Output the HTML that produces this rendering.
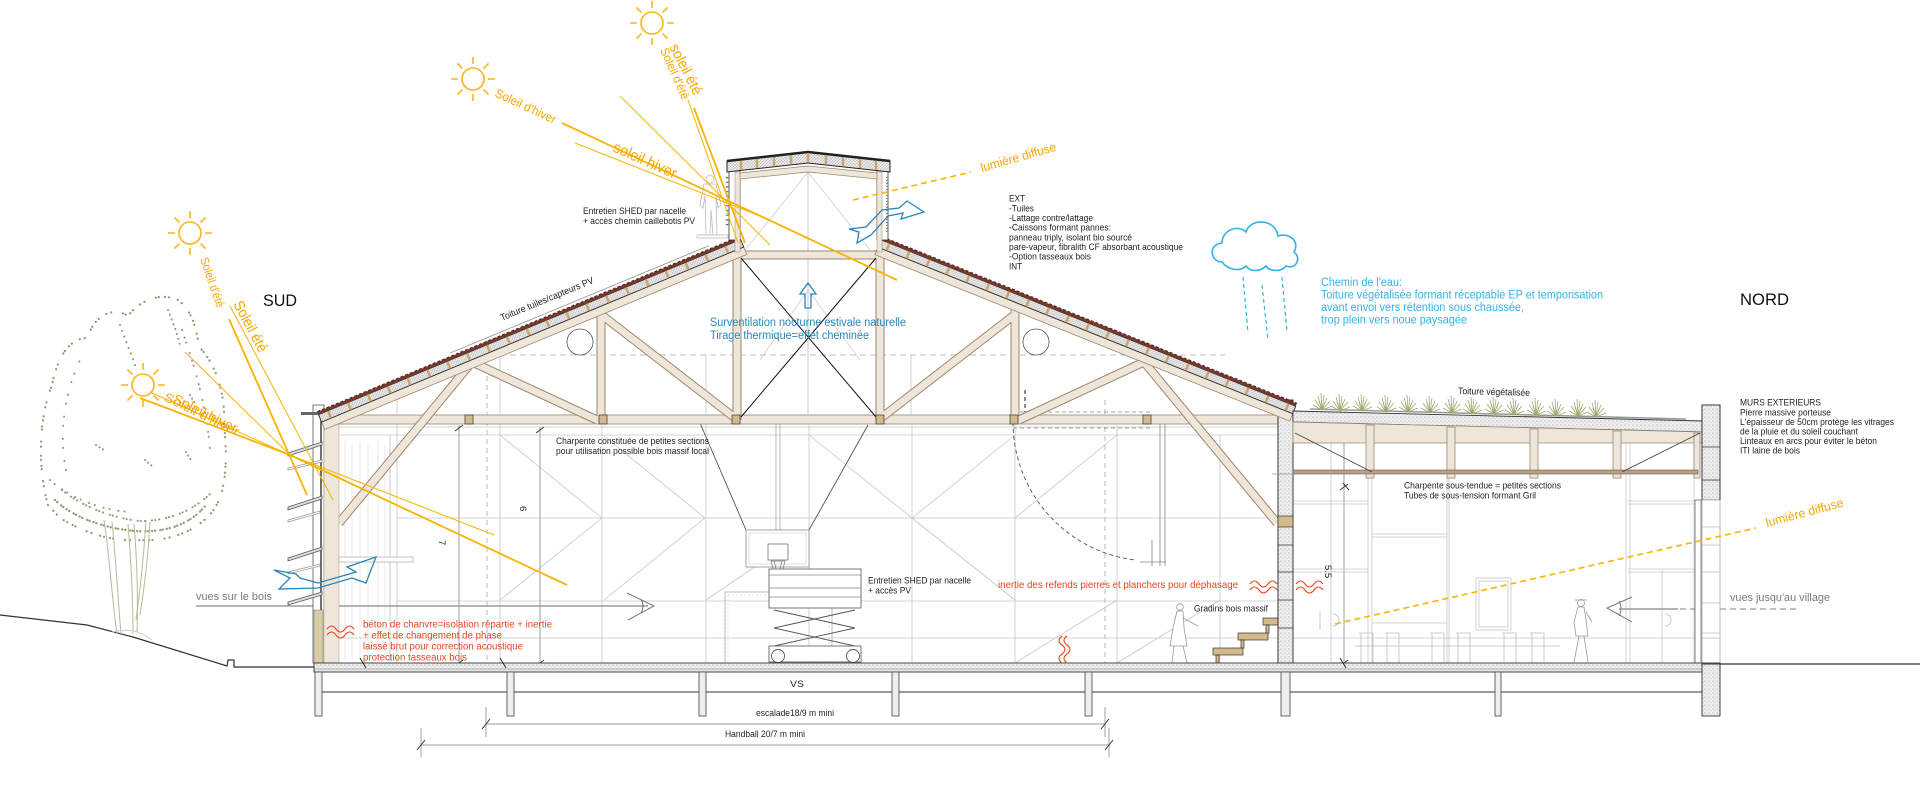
<!DOCTYPE html>
<html><head><meta charset="utf-8">
<style>
html,body{margin:0;padding:0;background:#fff;}
svg{display:block;}
text{font-family:"Liberation Sans",Arial,sans-serif;}
.k{fill:#222;font-size:9.5px;}
.o{fill:#f5a600;}
.b{fill:#2a86b8;font-size:11.5px;}
.c{fill:#33b2e6;font-size:11.5px;}
.r{fill:#e5461c;font-size:10.5px;}
.g{fill:#7a7a7a;font-size:11px;}
.wo{stroke:#9c8670;stroke-width:9;fill:none;}
.wi{stroke:#efe6da;stroke-width:7;fill:none;}
.gl{stroke:#c6c6c6;stroke-width:0.8;fill:none;}
.ray{stroke:#f8b400;fill:none;}
</style></head>
<body>
<svg width="1920" height="793" viewBox="0 0 1920 793" xmlns="http://www.w3.org/2000/svg">
<defs>
<pattern id="hx" width="3" height="3" patternUnits="userSpaceOnUse"><rect width="3" height="3" fill="#ececec"/><path d="M0 3L3 0" stroke="#a8a8a8" stroke-width="0.5"/><path d="M0 0L3 3" stroke="#c8c8c8" stroke-width="0.4"/></pattern>
<pattern id="st" width="4" height="4" patternUnits="userSpaceOnUse"><rect width="4" height="4" fill="#efefef"/><circle cx="1" cy="1" r="0.55" fill="#8a8a8a"/><circle cx="3" cy="2.8" r="0.45" fill="#a5a5a5"/></pattern>
<g id="sun"><circle r="11" fill="none" stroke="#f9b51a" stroke-width="1.6"/><path d="M15 0H22M-15 0H-22M0 15V22M0 -15V-22M10.6 10.6L15.6 15.6M-10.6 10.6L-15.6 15.6M10.6 -10.6L15.6 -15.6M-10.6 -10.6L-15.6 -15.6" stroke="#f9b51a" stroke-width="1.6"/></g>
<path id="tuft" d="M0 0L-9 -5M0 0L-7 -10M0 0L-4 -14M0 0L-1 -17M0 0L2 -15M0 0L5 -12M0 0L8 -9M0 0L10 -4M0 0L-3 -9M0 0L3 -8" stroke="#9aab6c" stroke-width="0.8" fill="none"/>
</defs>

<!-- ground -->
<path d="M0,615 L87,625 L133,637 L227,666 L228,660 L234,660 L234,667 L315,667" fill="none" stroke="#333" stroke-width="1.2"/>
<line x1="1720" y1="664" x2="1920" y2="664" stroke="#333" stroke-width="1.2"/>

<!-- tree -->
<g fill="none" stroke="#8d9c72" stroke-linecap="round">
<path d="M48,505 C38,470 38,420 52,385 C58,355 70,338 88,338 C92,318 112,305 128,316 C140,300 160,292 178,300 C194,312 196,332 200,348 C214,362 226,392 224,425 C228,460 226,495 212,512 C196,532 168,542 138,540 C108,542 80,530 60,518 Z" stroke-width="2.2" stroke-dasharray="0.1 6 0.1 4 0.1 9 0.1 5 0.1 12 0.1 3"/>
<path d="M55,500 C70,515 100,528 135,531 C165,533 190,525 206,505" stroke-width="2.3" stroke-dasharray="0.1 3 0.1 5 0.1 2.5 0.1 4"/>
<path d="M62,490 C80,505 110,518 140,521 C170,521 195,510 214,490" stroke-width="2.1" stroke-dasharray="0.1 4 0.1 7 0.1 3"/>
<path d="M50,480 C70,498 100,510 130,512" stroke-width="2" stroke-dasharray="0.1 6 0.1 9"/>
<path d="M66,470 C58,430 66,390 80,360" stroke-width="2" stroke-dasharray="0.1 9 0.1 13"/>
<path d="M182,330 C192,360 206,400 210,450" stroke-width="2" stroke-dasharray="0.1 8 0.1 5 0.1 11"/>
<path d="M120,325 C125,340 130,350 135,365" stroke-width="2" stroke-dasharray="0.1 6"/>
<path d="M168,310 C172,320 176,330 180,345" stroke-width="2" stroke-dasharray="0.1 5"/>
<path d="M145,460 L152,466 M186,452 L192,462 M96,445 L104,450 M190,395 L196,405" stroke-width="2" stroke-dasharray="0.1 4"/>
</g>
<g stroke="#b3bb98" stroke-width="1" fill="none">
<path d="M104,520 C110,560 112,600 117,634"/>
<path d="M112,522 C116,560 118,600 121,634"/>
<path d="M128,524 C131,560 133,600 133,634"/>
<path d="M134,524 C137,560 138,600 137,632"/>
<path d="M146,520 C144,555 140,590 136,620"/>
<path d="M150,522 C148,560 144,590 140,615"/>
<path d="M112,632 Q135,626 152,640" stroke="#ccc"/>
</g>

<!-- interior grid lines main hall -->
<g class="gl">
<path d="M340,427H1278M340,435H1278M397,518H1278M397,601H1278M340,638H1278"/>
<path d="M397,380V663M500,355V663M602,425V663M706,355V663M809,425V663M912,425V663M1015,425V663M1117,425V663M1220,435V663M911,355V415"/>
<path d="M500,435L602,518M604,436L705,518L604,600M809,435L912,518L1015,435M912,518L1015,600M1015,518L1117,435M1015,663L1117,600M1117,663L1220,600M706,600L809,530M500,600L602,518"/>
<path d="M745,250L808,172L870,250M760,360L808,290L860,360" stroke="#cfcfcf"/>
<path d="M808,170V417" stroke="#bbb"/>
</g>
<g stroke="#e0e0e0" stroke-width="0.7">
<path d="M345,440V660M352,445V660M360,440V660M368,445V660M378,440V660M385,445V660"/>
</g>
<line x1="390" y1="435" x2="390" y2="663" stroke="#bbb" stroke-width="0.8"/>
<path d="M487,340V663M1105,400V663" stroke="#aaa" stroke-width="0.8" stroke-dasharray="5 4" fill="none"/>
<path d="M490,355H1225" stroke="#aaa" stroke-width="0.8" stroke-dasharray="6 4"/>
<path d="M1013,412H1150M1013,428H1150" stroke="#888" stroke-width="0.8" stroke-dasharray="4 3"/>
<path d="M1025,390V412" stroke="#444" stroke-width="1.2" stroke-dasharray="4 3"/>
<path d="M1013,422 A139 139 0 0 0 1135,560" fill="none" stroke="#555" stroke-width="0.9" stroke-dasharray="4 3"/>
<path d="M1160,420V566M1165,420V566M1140,562H1166M1152,540V566" stroke="#888" stroke-width="0.8" fill="none"/>
<path d="M459,425V663M540,427V663M1344,440V663" stroke="#888" stroke-width="0.8"/>
<path d="M455,431L463,425M536,433L544,427M455,666L463,660M536,666L544,660M1340,490L1348,484M1340,666L1348,660" stroke="#333" stroke-width="0.9"/>

<!-- annex interior -->
<g class="gl">
<path d="M1331,440V663M1368,440V663M1372,440V663M1447,440V663M1449,440V663M1626,440V663M1630,440V663M1662,570V663M1694,440V663"/>
<path d="M1293,501H1368M1293,504H1368M1628,501H1700M1628,504H1700M1372,534H1447M1372,537H1447M1293,569H1368M1293,572H1368M1628,569H1700M1628,572H1700M1372,623H1447M1293,638H1700"/>
<rect x="1476" y="578" width="35" height="52"/><rect x="1479" y="581" width="29" height="46"/>
</g>
<g stroke="#bdbdbd" stroke-width="0.8" fill="none">
<path d="M1359,633h14v30M1361,663v-30M1385,633h14v30M1387,663v-30M1430,633h14v30M1432,663v-30M1456,633h14v30M1458,663v-30M1502,633h14v30M1504,663v-30M1530,633h14v30M1532,663v-30M1355,646H1560"/>
<path d="M1333,614 a6 6 0 0 1 0 12M1665,614 a6 6 0 0 1 0 12M1320,612V630"/>
</g>
<g stroke="#9a9a9a" stroke-width="0.8" fill="#fff">
<circle cx="1581" cy="603" r="3.5"/><path d="M1575,600 h12"/>
<path d="M1578,607 L1574,622 L1576,636 L1588,636 L1586,620 L1584,607 Z"/>
<path d="M1579,636 L1574,662 M1584,636 L1588,662 M1586,612 L1592,622" fill="none"/>
</g>
<path d="M1632,597 L1607,608 L1632,622" fill="none" stroke="#777" stroke-width="1"/>
<path d="M1619,601 Q1623,609 1619,616" fill="none" stroke="#777" stroke-width="1"/>
<line x1="1619" y1="609" x2="1678" y2="609" stroke="#888" stroke-width="1.3"/>
<line x1="1680" y1="609" x2="1800" y2="609" stroke="#999" stroke-width="1.3" stroke-dasharray="6 4"/>
<line x1="196" y1="606" x2="648" y2="606" stroke="#888" stroke-width="1.2"/>
<path d="M627,593 L654,606 L628,620" fill="none" stroke="#777" stroke-width="1"/>
<path d="M641,599 Q645,606 641,613" fill="none" stroke="#777" stroke-width="1"/>

<!-- hoop -->
<path d="M700,423L746,530M868,425L809,530" stroke="#555" stroke-width="0.9"/>
<path d="M776,424V530M780,424V530" stroke="#aaa" stroke-width="0.8"/>
<rect x="746" y="530" width="63" height="37" fill="#fff" stroke="#999" stroke-width="0.9"/>
<rect x="749" y="533" width="57" height="31" fill="none" stroke="#ccc" stroke-width="0.6"/>
<rect x="768" y="544" width="20" height="16" fill="#fff" stroke="#777" stroke-width="0.8"/>
<path d="M771,561H785L782,573H774Z M774,561L777,573M782,561L779,573" fill="none" stroke="#777" stroke-width="0.7"/>
<rect x="725" y="592" width="107" height="71" fill="none" stroke="#aaa" stroke-width="0.8"/>
<rect x="728" y="595" width="101" height="68" fill="none" stroke="#ccc" stroke-width="0.6" stroke-dasharray="2 2"/>
<rect x="769" y="569" width="92" height="39" fill="#fff" stroke="#666" stroke-width="0.9"/>
<path d="M769,575H861M769,588H861M769,597H861" stroke="#888" stroke-width="0.7"/>
<path d="M774,610L855,628M855,610L774,628M774,628L855,646M855,628L774,646" stroke="#555" stroke-width="0.9"/>
<rect x="769" y="646" width="92" height="16" fill="#fff" stroke="#666" stroke-width="0.9"/>
<circle cx="778" cy="656" r="6.5" fill="#fff" stroke="#555" stroke-width="0.9"/>
<circle cx="853" cy="656" r="6.5" fill="#fff" stroke="#555" stroke-width="0.9"/>

<!-- stairs & person -->
<g fill="#d4b98c" stroke="#333" stroke-width="0.7">
<rect x="1213" y="648" width="30" height="7"/><rect x="1238" y="633" width="30" height="7"/><rect x="1263" y="618" width="15" height="7"/>
<rect x="1216" y="655" width="3" height="8"/><rect x="1241" y="640" width="3" height="8"/><rect x="1266" y="625" width="3" height="8"/>
</g>
<g stroke="#999" stroke-width="0.8" fill="#fff">
<circle cx="1180" cy="607" r="3.3"/>
<path d="M1177,611 L1173,628 L1170,646 L1187,646 L1184,628 L1183,611 Z"/>
<path d="M1174,646 L1172,663 M1183,646 L1187,663 M1183,618 L1198,626" fill="none"/>
</g>

<!-- truss members -->
<rect x="324" y="415" width="954" height="9" fill="#efe6da" stroke="#9c8670" stroke-width="0.8"/>
<g>
<path class="wo" d="M339,523L472,362M472,362L597,420M601,310V420M603,316L735,418M737,250V420M880,250V420M739,255H878M1015,310V420M1013,316L881,418M1144,362L1019,420M1144,362L1277,523"/>
<path class="wi" d="M339,523L472,362M472,362L597,420M601,310V420M603,316L735,418M737,250V420M880,250V420M739,255H878M1015,310V420M1013,316L881,418M1144,362L1019,420M1144,362L1277,523"/>
</g>
<path d="M741,258L876,417M876,258L741,417" stroke="#111" stroke-width="1"/>
<g fill="#d4b98c" stroke="#333" stroke-width="0.7">
<rect x="465" y="415" width="8" height="9"/><rect x="599" y="415" width="8" height="9"/><rect x="732" y="415" width="8" height="9"/><rect x="876" y="415" width="8" height="9"/><rect x="1010" y="415" width="8" height="9"/><rect x="1143" y="415" width="8" height="9"/>
</g>
<circle cx="580" cy="342" r="13" fill="none" stroke="#555" stroke-width="0.8"/>
<circle cx="1036" cy="342" r="13" fill="none" stroke="#555" stroke-width="0.8"/>

<!-- left wall -->
<rect x="313" y="405" width="11" height="258" fill="#fff" stroke="#555" stroke-width="0.8"/>
<line x1="321" y1="413" x2="321" y2="610" stroke="#222" stroke-width="1.3"/>
<rect x="324" y="424" width="15" height="239" fill="#efe6da" stroke="#b8a690" stroke-width="0.6"/>
<rect x="314" y="610" width="9" height="53" fill="#d9cba6" stroke="#888" stroke-width="0.6"/>
<rect x="301" y="412" width="24" height="3" fill="#666"/>
<rect x="339" y="557" width="74" height="5" fill="#fff" stroke="#aaa" stroke-width="0.7"/>
<g stroke="#555" stroke-width="0.8" fill="#ddd">
<path d="M288,453L322,442L322,445L288,456Z"/>
<path d="M288,468L322,460L322,462L288,470Z" fill="#fff" stroke="#999"/>
<path d="M288,507L322,496L322,499L288,510Z"/>
<path d="M288,520L320,511L320,513L288,522Z" fill="#fff" stroke="#999"/>
<path d="M288,558L322,547L322,550L288,561Z"/>
<path d="M288,572L320,564L320,566L288,574Z" fill="#fff" stroke="#999"/>
<path d="M288,602L322,592L322,595L288,605Z"/>
</g>

<!-- right main wall -->
<rect x="1278" y="400" width="15" height="263" fill="url(#st)" stroke="#222" stroke-width="0.9"/>
<rect x="1278" y="516" width="15" height="11" fill="#d4b98c" stroke="#333" stroke-width="0.7"/>
<path d="M1278,545H1293M1278,572H1293M1278,600H1293M1278,628H1293" stroke="#333" stroke-width="0.8"/>

<!-- left roof -->
<g transform="translate(322,410) rotate(-22.53)">
<rect x="-5" y="11" width="457" height="8" fill="#efe6da" stroke="#9c8670" stroke-width="0.8"/>
<rect x="-5" y="3" width="457" height="8" fill="url(#hx)" stroke="#2a2a2a" stroke-width="0.9"/>
<line x1="4" y1="7" x2="452" y2="7" stroke="#c9a66e" stroke-width="7.5" stroke-dasharray="2.5 19"/>
<rect x="-5" y="0" width="457" height="3" fill="#74392b"/>
<line x1="-5" y1="-0.3" x2="452" y2="-0.3" stroke="#4a2018" stroke-width="1" stroke-dasharray="3 2"/>
<line x1="140" y1="-3.5" x2="420" y2="-3.5" stroke="#9a9a9a" stroke-width="0.9"/>
</g>
<!-- right roof -->
<g transform="translate(882,237) rotate(21.87)">
<rect x="0" y="11" width="447" height="8" fill="#efe6da" stroke="#9c8670" stroke-width="0.8"/>
<rect x="0" y="3" width="447" height="8" fill="url(#hx)" stroke="#2a2a2a" stroke-width="0.9"/>
<line x1="8" y1="7" x2="447" y2="7" stroke="#c9a66e" stroke-width="7.5" stroke-dasharray="2.5 19"/>
<rect x="0" y="0" width="447" height="3" fill="#74392b"/>
<line x1="0" y1="-0.3" x2="447" y2="-0.3" stroke="#4a2018" stroke-width="1" stroke-dasharray="3 2"/>
</g>

<!-- shed -->
<rect x="729" y="160" width="11" height="80" fill="#fff" stroke="#333" stroke-width="0.8"/>
<rect x="735" y="172" width="5" height="80" fill="#efe6da" stroke="#9c8670" stroke-width="0.5"/>
<rect x="877" y="160" width="11" height="80" fill="#fff" stroke="#333" stroke-width="0.8"/>
<rect x="877" y="172" width="5" height="80" fill="#efe6da" stroke="#9c8670" stroke-width="0.5"/>
<line x1="727" y1="177" x2="727" y2="228" stroke="#666" stroke-width="2.5" stroke-dasharray="1.2 3.5"/>
<line x1="887" y1="177" x2="887" y2="232" stroke="#888" stroke-width="2" stroke-dasharray="1 2"/>
<polygon points="727,161 808,152 890,161 890,172 808,163 727,172" fill="url(#hx)" stroke="#222" stroke-width="1"/>
<polyline points="727,161 808,152 890,161" fill="none" stroke="#222" stroke-width="2.5"/>
<path d="M741,161V170M757,159V168M774,157V166M791,155V164M808,153V162M826,155V164M843,157V166M860,159V168M876,161V170" stroke="#c9a66e" stroke-width="2.5"/>
<polygon points="740,173 808,166 877,173 877,179 808,172 740,179" fill="#efe6da" stroke="#9c8670" stroke-width="0.7"/>
<g stroke="#bbb" stroke-width="0.8" fill="#fff">
<rect x="697" y="235" width="31" height="3"/>
<circle cx="710" cy="179" r="4"/>
<path d="M704,184 L700,205 L703,208 L705,196 L706,235 L710,235 L711,210 L713,235 L717,235 L716,196 L718,208 L721,205 L716,184 Z"/>
</g>

<!-- annex roof -->
<line x1="1310" y1="409" x2="1686" y2="419" stroke="#999" stroke-width="1.5"/>
<g>
<use href="#tuft" x="1322" y="410"/><use href="#tuft" x="1340" y="411"/>
<use href="#tuft" x="1362" y="411"/><use href="#tuft" x="1386" y="412"/><use href="#tuft" x="1408" y="412"/>
<use href="#tuft" x="1430" y="413"/><use href="#tuft" x="1452" y="413"/><use href="#tuft" x="1472" y="414"/>
<use href="#tuft" x="1494" y="414"/><use href="#tuft" x="1514" y="415"/><use href="#tuft" x="1536" y="415"/>
<use href="#tuft" x="1556" y="416"/><use href="#tuft" x="1578" y="416"/><use href="#tuft" x="1596" y="417"/>
</g>
<polygon points="1293,411 1703,421 1703,432 1293,422" fill="url(#st)" stroke="#333" stroke-width="0.9"/>
<polygon points="1293,422 1703,432 1703,443 1293,443" fill="#efe6da" stroke="#9c8670" stroke-width="0.8"/>
<g fill="#efe6da" stroke="#9c8670" stroke-width="0.8">
<rect x="1366" y="425" width="8" height="53"/><rect x="1447" y="427" width="8" height="51"/><rect x="1530" y="429" width="8" height="49"/><rect x="1613" y="431" width="8" height="47"/><rect x="1694" y="433" width="6" height="45"/>
</g>
<rect x="1293" y="470" width="405" height="4" fill="#b8a088" stroke="#6b5a4a" stroke-width="0.6"/>
<path d="M1295,433L1372,472M1700,433L1622,472" stroke="#444" stroke-width="0.9"/>
<line x1="1272" y1="474" x2="1293" y2="474" stroke="#999" stroke-width="0.8"/>
<path d="M1343,483L1349,490" stroke="#222" stroke-width="0.9"/>
<rect x="1702" y="405" width="18" height="95" fill="url(#st)" stroke="#222" stroke-width="0.9"/>
<path d="M1702,447H1720M1702,480H1720" stroke="#333" stroke-width="0.8"/>
<rect x="1702" y="500" width="18" height="163" fill="#fff" stroke="#aaa" stroke-width="0.8"/>
<path d="M1702,527H1720M1702,545H1720M1702,572H1720M1702,603H1720M1702,633H1720M1702,638H1720" stroke="#bbb" stroke-width="0.8"/>
<rect x="1695" y="500" width="6" height="163" fill="#fff" stroke="#666" stroke-width="0.8"/>

<!-- floor & foundations -->
<rect x="314" y="663" width="1406" height="9" fill="url(#st)" stroke="#333" stroke-width="0.9"/>
<line x1="314" y1="669" x2="1702" y2="669" stroke="#777" stroke-width="0.6"/>
<line x1="322" y1="692" x2="1702" y2="692" stroke="#333" stroke-width="1"/>
<g fill="#eee" stroke="#444" stroke-width="0.8">
<rect x="315" y="672" width="7" height="44"/><rect x="507" y="672" width="7" height="44"/><rect x="699" y="672" width="7" height="44"/><rect x="892" y="672" width="7" height="44"/><rect x="1085" y="672" width="7" height="44"/><rect x="1281" y="672" width="9" height="44"/><rect x="1495" y="672" width="6" height="44"/>
</g>
<rect x="1702" y="664" width="18" height="52" fill="url(#st)" stroke="#333" stroke-width="0.9"/>
<path d="M360,658L366,668M500,658L506,668M1340,658L1346,668" stroke="#222" stroke-width="0.9"/>
<g stroke="#999" stroke-width="0.9">
<path d="M486,707V737M1105,707V737M486,724H1105M421,728V757M1109,728V757M421,745H1109"/>
</g>
<path d="M482,729L490,719M1101,729L1109,719M417,750L425,740M1105,750L1113,740" stroke="#333" stroke-width="1"/>

<!-- red waves -->
<g fill="none" stroke="#e5461c" stroke-width="1.1">
<path d="M327,629 c3,-4 6,-4 9,0 s6,4 9,0 s6,-4 9,0 M327,635 c3,-4 6,-4 9,0 s6,4 9,0 s6,-4 9,0"/>
<path d="M1250,584 c3,-4 6,-4 9,0 s6,4 9,0 s6,-4 9,0 M1250,590 c3,-4 6,-4 9,0 s6,4 9,0 s6,-4 9,0"/>
<path d="M1296,584 c3,-4 6,-4 9,0 s6,4 9,0 s6,-4 9,0 M1296,590 c3,-4 6,-4 9,0 s6,4 9,0 s6,-4 9,0"/>
<path d="M1062,636 c-4,3 -4,6 0,9 s4,6 0,9 s-4,6 0,9 M1067,636 c-4,3 -4,6 0,9 s4,6 0,9 s-4,6 0,9"/>
</g>

<!-- suns -->
<use href="#sun" x="652" y="23"/>
<use href="#sun" x="473" y="79"/>
<use href="#sun" x="190" y="233"/>
<use href="#sun" x="143" y="385"/>
<path class="ray" d="M562,123 L897,280" stroke-width="1.8"/>
<path class="ray" d="M575,143 L770,220" stroke-width="1"/>
<path class="ray" d="M620,96 L770,245" stroke-width="1"/>
<path class="ray" d="M694,108 L745,243" stroke-width="1.8"/>
<path class="ray" d="M688,100 L738,243" stroke-width="1"/>
<path class="ray" d="M229,319 L307,495" stroke-width="1.8"/>
<path class="ray" d="M230,306 L333,500" stroke-width="1"/>
<path class="ray" d="M185,352 L290,455" stroke-width="1"/>
<path class="ray" d="M140,398 L290,455 L567,585" stroke-width="1.8"/>
<path class="ray" d="M150,392 L290,455 L494,535" stroke-width="1"/>
<path d="M853,200 L971,172" stroke="#f8b400" stroke-width="1.6" stroke-dasharray="6 4"/>
<path d="M1335,624 L1756,528" stroke="#f8b400" stroke-width="1.6" stroke-dasharray="6 4"/>

<!-- blue arrows -->
<g fill="none" stroke="#2a86b8" stroke-width="1.3" stroke-linejoin="miter">
<path d="M849,229 L866,227 L882,210 L899,208 L907,201 L924,212 L901,219 L903,213 L888,216 L871,235 L857,243 L859,232 Z"/>
<path d="M274,570 L290,578 L279,589 L318,588 L352,578 L366,583 L376,557 L347,567 L356,572 L318,583 L300,578 L296,574 Z"/>
<path d="M808,283 L816,294 L811,294 L811,308 L805,308 L805,294 L800,294 Z"/>
</g>
<path d="M1222,262 C1210,262 1208,244 1222,243 C1222,230 1238,224 1246,232 C1250,218 1275,218 1278,236 C1290,232 1300,242 1294,252 C1302,258 1296,270 1286,266 C1282,272 1270,272 1266,266 C1260,272 1250,272 1246,266 C1240,272 1228,270 1222,262 Z" fill="none" stroke="#33b2e6" stroke-width="1.6"/>
<path d="M1243,277L1248,333M1262,285L1268,340M1282,277L1287,332" stroke="#33b2e6" stroke-width="1.2" stroke-dasharray="4 3"/>

<!-- TEXT -->
<text x="263" y="306" font-size="17" fill="#111" textLength="34" lengthAdjust="spacingAndGlyphs">SUD</text>
<text x="1740" y="305" font-size="17" fill="#111" textLength="49" lengthAdjust="spacingAndGlyphs">NORD</text>

<text class="o" font-size="12.5" transform="translate(494,96) rotate(25)" textLength="66" lengthAdjust="spacingAndGlyphs">Soleil d'hiver</text>
<text class="o" font-size="15.5" transform="translate(612,151) rotate(24)" textLength="68" lengthAdjust="spacingAndGlyphs">soleil hiver</text>
<text class="o" font-size="12" transform="translate(660,50) rotate(66)" textLength="55" lengthAdjust="spacingAndGlyphs">Soleil d'été</text>
<text class="o" font-size="15" transform="translate(669,47) rotate(63)" textLength="55" lengthAdjust="spacingAndGlyphs">soleil été</text>
<text class="o" font-size="12" transform="translate(200,259) rotate(71)" textLength="52" lengthAdjust="spacingAndGlyphs">Soleil d'été</text>
<text class="o" font-size="15" transform="translate(233,304) rotate(62)" textLength="56" lengthAdjust="spacingAndGlyphs">Soleil été</text>
<text class="o" font-size="12.5" transform="translate(163,400) rotate(26)" textLength="82" lengthAdjust="spacingAndGlyphs">Soleil d'hiver</text>
<text class="o" font-size="13.5" transform="translate(172,402) rotate(26)" textLength="70" lengthAdjust="spacingAndGlyphs">Soleil hiver</text>
<text class="o" font-size="12.5" transform="translate(982,172) rotate(-16)" textLength="78" lengthAdjust="spacingAndGlyphs">lumière diffuse</text>
<text class="o" font-size="12.5" transform="translate(1767,527) rotate(-15)" textLength="80" lengthAdjust="spacingAndGlyphs">lumière diffuse</text>

<text class="k" x="583" y="214" textLength="103" lengthAdjust="spacingAndGlyphs">Entretien SHED par nacelle</text>
<text class="k" x="583" y="224" textLength="112" lengthAdjust="spacingAndGlyphs">+ accès chemin caillebotis PV</text>
<text class="k" font-size="9" transform="translate(502,321) rotate(-22.5)" textLength="100" lengthAdjust="spacingAndGlyphs">Toiture tuiles/capteurs PV</text>

<text class="k" x="1009" y="201.5" textLength="16" lengthAdjust="spacingAndGlyphs">EXT</text>
<text class="k" x="1009" y="211.5" textLength="25" lengthAdjust="spacingAndGlyphs">-Tuiles</text>
<text class="k" x="1009" y="221" textLength="84" lengthAdjust="spacingAndGlyphs">-Lattage contre/lattage</text>
<text class="k" x="1009" y="230.5" textLength="102" lengthAdjust="spacingAndGlyphs">-Caissons formant pannes:</text>
<text class="k" x="1009" y="240.5" textLength="123" lengthAdjust="spacingAndGlyphs">panneau triply, isolant bio sourcé</text>
<text class="k" x="1009" y="250" textLength="174" lengthAdjust="spacingAndGlyphs">pare-vapeur, fibralith CF absorbant acoustique</text>
<text class="k" x="1009" y="259.5" textLength="82" lengthAdjust="spacingAndGlyphs">-Option tasseaux bois</text>
<text class="k" x="1009" y="269.5" textLength="13" lengthAdjust="spacingAndGlyphs">INT</text>

<text class="b" x="710" y="326" textLength="196" lengthAdjust="spacingAndGlyphs">Surventilation nocturne estivale naturelle</text>
<text class="b" x="710" y="339" textLength="159" lengthAdjust="spacingAndGlyphs">Tirage thermique=effet cheminée</text>

<text class="c" x="1321" y="286" textLength="81" lengthAdjust="spacingAndGlyphs">Chemin de l'eau:</text>
<text class="c" x="1321" y="298.5" textLength="282" lengthAdjust="spacingAndGlyphs">Toiture végétalisée formant réceptable EP et temporisation</text>
<text class="c" x="1321" y="311" textLength="203" lengthAdjust="spacingAndGlyphs">avant envoi vers rétention sous chaussée,</text>
<text class="c" x="1321" y="323.5" textLength="146" lengthAdjust="spacingAndGlyphs">trop plein vers noue paysagée</text>

<text class="k" transform="translate(1458,394) rotate(1.5)" textLength="72" lengthAdjust="spacingAndGlyphs">Toiture végétalisée</text>
<text class="k" x="1740" y="405.5" textLength="81" lengthAdjust="spacingAndGlyphs">MURS EXTERIEURS</text>
<text class="k" x="1740" y="415.5" textLength="91" lengthAdjust="spacingAndGlyphs">Pierre massive porteuse</text>
<text class="k" x="1740" y="425" textLength="154" lengthAdjust="spacingAndGlyphs">L'épaisseur de 50cm protège les vitrages</text>
<text class="k" x="1740" y="434.5" textLength="118" lengthAdjust="spacingAndGlyphs">de la pluie et du soleil couchant</text>
<text class="k" x="1740" y="444" textLength="137" lengthAdjust="spacingAndGlyphs">Linteaux en arcs pour éviter le béton</text>
<text class="k" x="1740" y="453.5" textLength="60" lengthAdjust="spacingAndGlyphs">ITI laine de bois</text>

<text class="k" x="556" y="444" textLength="153" lengthAdjust="spacingAndGlyphs">Charpente constituée de petites sections</text>
<text class="k" x="556" y="454" textLength="153" lengthAdjust="spacingAndGlyphs">pour utilisation possible bois massif local</text>
<text class="k" x="1404" y="488.5" textLength="157" lengthAdjust="spacingAndGlyphs">Charpente sous-tendue = petites sections</text>
<text class="k" x="1404" y="498.5" textLength="132" lengthAdjust="spacingAndGlyphs">Tubes de sous-tension formant Gril</text>

<text class="k" x="868" y="583.5" textLength="103" lengthAdjust="spacingAndGlyphs">Entretien SHED par nacelle</text>
<text class="k" x="868" y="593.5" textLength="43" lengthAdjust="spacingAndGlyphs">+ accès PV</text>
<text class="k" x="1194" y="611.5" textLength="74" lengthAdjust="spacingAndGlyphs">Gradins bois massif</text>

<text class="r" x="363" y="627.5" textLength="189" lengthAdjust="spacingAndGlyphs">béton de chanvre=isolation répartie + inertie</text>
<text class="r" x="363" y="638.5" textLength="139" lengthAdjust="spacingAndGlyphs">+ effet de changement de phase</text>
<text class="r" x="363" y="649.5" textLength="160" lengthAdjust="spacingAndGlyphs">laissé brut pour correction acoustique</text>
<text class="r" x="363" y="660.5" textLength="104" lengthAdjust="spacingAndGlyphs">protection tasseaux bois</text>
<text class="r" font-size="11" x="998" y="588" textLength="240" lengthAdjust="spacingAndGlyphs">inertie des refends pierres et planchers pour déphasage</text>

<text class="g" x="196" y="600" textLength="76" lengthAdjust="spacingAndGlyphs">vues sur le bois</text>
<text class="g" x="1730" y="601" textLength="100" lengthAdjust="spacingAndGlyphs">vues jusqu'au village</text>

<text class="k" font-size="9" transform="translate(439,540) rotate(90)">7</text>
<text class="k" font-size="9" transform="translate(520,506) rotate(90)">6</text>
<text class="k" font-size="9" transform="translate(1325,565) rotate(90)">5.5</text>

<text class="k" font-size="10" x="790" y="687" textLength="14" lengthAdjust="spacingAndGlyphs">VS</text>
<text class="k" font-size="9" x="756" y="716" textLength="78" lengthAdjust="spacingAndGlyphs">escalade18/9 m mini</text>
<text class="k" font-size="9" x="725" y="737" textLength="80" lengthAdjust="spacingAndGlyphs">Handball 20/7 m mini</text>
</svg>
</body></html>
